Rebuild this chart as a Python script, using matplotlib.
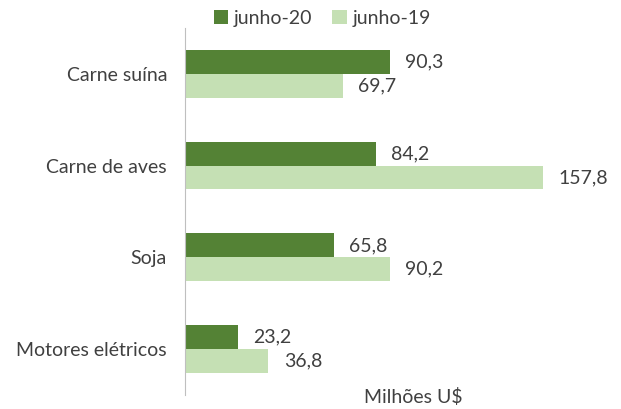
import numpy as np
import matplotlib.pyplot as plt

plt.rcParams['font.family'] = ['Lato', 'DejaVu Sans']

categorias = ['Carne suína', 'Carne de aves', 'Soja', 'Motores elétricos']
junho_20 = [90.3, 84.2, 65.8, 23.2]
junho_19 = [69.7, 157.8, 90.2, 36.8]
series_labels = ['junho-20', 'junho-19']

cor_20 = '#548235'
cor_19 = '#C5E0B4'
texto = '#404040'
fs = 14

fig = plt.figure(figsize=(6.21, 4.09), dpi=100)
ax = fig.add_axes([0.298, 0.034, 0.657, 0.898])

pos = np.arange(len(categorias))[::-1]
h = 0.26
b1 = ax.barh(pos + h / 2, junho_20, height=h, color=cor_20, label=series_labels[0])
b2 = ax.barh(pos - h / 2, junho_19, height=h, color=cor_19, label=series_labels[1])

fmt = lambda v: f'{v:.1f}'.replace('.', ',')
ax.bar_label(b1, labels=[fmt(v) for v in junho_20], padding=11, fontsize=fs, color=texto)
ax.bar_label(b2, labels=[fmt(v) for v in junho_19], padding=11, fontsize=fs, color=texto)

ax.set_xlim(0, 180)
ax.set_ylim(-0.5, 3.5)
ax.set_yticks(pos)
ax.set_yticklabels(categorias, fontsize=fs, color=texto)
ax.tick_params(axis='y', length=0, pad=13)
ax.set_xticks([])
for s in ['top', 'right', 'bottom']:
    ax.spines[s].set_visible(False)
ax.spines['left'].set_color('#BFBFBF')

fig.legend(loc='center', bbox_to_anchor=(0.519, 0.955), ncol=2, frameon=False,
           fontsize=fs, handlelength=0.75, handleheight=0.75, handletextpad=0.3,
           columnspacing=1.0, labelcolor=texto)

fig.text(0.665, 0.03, 'Milhões U$', ha='center', va='center', fontsize=fs, color=texto)

fig.savefig('out.png', dpi=100)
